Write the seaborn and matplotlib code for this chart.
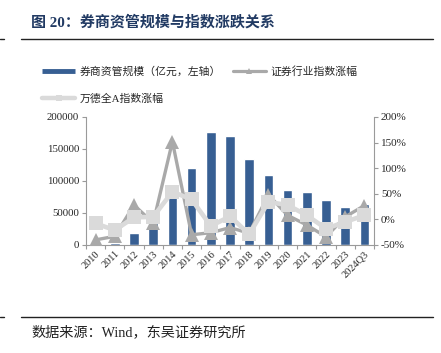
import numpy as np
import pandas as pd
import matplotlib
matplotlib.use("Agg")
import matplotlib.pyplot as plt
import seaborn as sns
from matplotlib.lines import Line2D
from matplotlib.ticker import FuncFormatter, FixedLocator

# data
years = ["2010", "2011", "2012", "2013", "2014", "2015", "2016", "2017",
         "2018", "2019", "2020", "2021", "2022", "2023", "2024Q3"]
am_scale = [500, 3600, 19300, 35000, 76000, 119800, 177000, 170300,
            134400, 109400, 86000, 83300, 69800, 59900, 63600]
sec_index = [-40, -33, 28, -7, 152, -30, -26, -16, -27, 48, 8, -11, -34, 5, 27]
wind_a = [-8, -21, 4, 5, 54, 39, -13, 6, -29, 34, 28, 8, -18, -5, 8]

left_ticks = [0, 50000, 100000, 150000, 200000]
right_ticks = [-50, 0, 50, 100, 150, 200]

title = "图 20：券商资管规模与指数涨跌关系"
source = "数据来源：Wind，东吴证券研究所"
lab_bar = "券商资管规模（亿元，左轴）"
lab_sec = "证券行业指数涨幅"
lab_wind = "万德全A指数涨幅"

BLUE = "#375f93"
GRAY1 = "#a9a9a9"
GRAY2 = "#dadada"

sns.set_theme(style="white")
plt.rcParams['font.family'] = ['Liberation Serif', 'Noto Sans CJK SC', 'DejaVu Sans']

df = pd.DataFrame({"year": years, "scale": am_scale,
                   "sec": sec_index, "wind": wind_a})
df["pos"] = np.arange(len(years))

fig = plt.figure(figsize=(4.41, 3.53), dpi=100)
ax = fig.add_axes([86 / 441, 1 - 245 / 353, (374 - 86) / 441, (245 - 117) / 353])

sns.barplot(data=df, x="year", y="scale", color=BLUE, width=0.5,
            saturation=1, ax=ax)
ax.set_ylim(0, 200000)
ax.set_xlim(-0.5, len(years) - 0.5)
ax.set_yticks(left_ticks)
ax.set_yticklabels([str(v) for v in left_ticks], fontsize=7.8)
ax.set_xlabel("")
ax.set_ylabel("")
ax.set_xticks(df["pos"])
ax.set_xticklabels(years, rotation=45, ha="right", rotation_mode="anchor",
                   fontsize=7.5)
ax.xaxis.set_minor_locator(FixedLocator(np.arange(-0.5, len(years), 1.0)))
ax.tick_params(axis="x", which="major", length=0, pad=3)
ax.tick_params(axis="x", which="minor", length=3, color="#9a9a9a", width=0.8, bottom=True)
ax.tick_params(axis="y", length=3, color="#9a9a9a", width=0.8, left=True, pad=2)

ax2 = ax.twinx()
sns.lineplot(data=df, x="pos", y="sec", color=GRAY1, lw=2.4, marker="^",
             markersize=10, markeredgewidth=0, ax=ax2, zorder=3)
sns.lineplot(data=df, x="pos", y="wind", color=GRAY2, lw=3.3, marker="s",
             markersize=9.5, markeredgewidth=0, ax=ax2, zorder=4)
ax2.set_ylim(-50, 200)
ax2.set_yticks(right_ticks)
ax2.yaxis.set_major_formatter(FuncFormatter(lambda v, p: f"{v:.0f}%"))
ax2.tick_params(axis="y", labelsize=8, length=3, color="#9a9a9a", width=0.8, right=True, pad=2)
ax2.set_xlabel("")
ax2.set_ylabel("")
ax2.set_xlim(-0.5, len(years) - 0.5)

for a in (ax, ax2):
    a.spines["top"].set_visible(False)
    for s in ("left", "right", "bottom"):
        a.spines[s].set_color("#9a9a9a")
        a.spines[s].set_linewidth(0.8)
ax.spines["right"].set_visible(False)
ax2.spines["left"].set_visible(False)
ax2.spines["bottom"].set_visible(False)

handles = [
    Line2D([], [], color=BLUE, lw=3.5, solid_capstyle="butt"),
    Line2D([], [], color=GRAY2, lw=3.2, marker="s", markersize=5, markeredgewidth=0),
    Line2D([], [], color=GRAY1, lw=2.3, marker="^", markersize=5, markeredgewidth=0),
]
fig.legend(handles, [lab_bar, lab_wind, lab_sec], ncol=2, frameon=False,
           loc="upper left", bbox_to_anchor=(37 / 441, 1 - 61 / 353),
           fontsize=7.8, handlelength=3.0, handletextpad=0.45,
           columnspacing=1.1, labelspacing=1.55, borderpad=0)

fig.text(31 / 441, 1 - 22 / 353, title, fontsize=10.8, fontweight="bold",
         color="#213a63", va="center", ha="left")
fig.text(31 / 441, 1 - 332 / 353, source, fontsize=10.2, color="#222222",
         va="center", ha="left")

for y in (39, 317):
    fig.add_artist(Line2D([21 / 441, 433 / 441], [1 - y / 353] * 2,
                          color="#222222", lw=1.0, transform=fig.transFigure))
    fig.add_artist(Line2D([0, 4 / 441], [1 - y / 353] * 2,
                          color="#222222", lw=1.0, transform=fig.transFigure))

fig.savefig("out.png", dpi=100)
